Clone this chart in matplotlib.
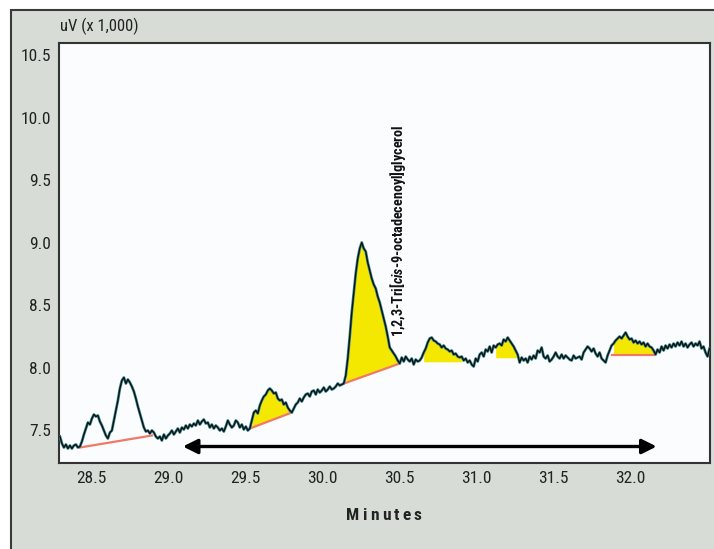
import numpy as np
import matplotlib.pyplot as plt
from matplotlib.patches import Rectangle
from matplotlib import font_manager

# detector trace, uV (x 1,000), evenly sampled between the two times below
T_START = 28.296
T_END = 32.517
signal = [
    7.452, 7.396, 7.364, 7.388, 7.356, 7.380, 7.356, 7.380, 7.388, 7.364, 7.372,
    7.412, 7.468, 7.516, 7.564, 7.548, 7.596, 7.628, 7.612, 7.620, 7.572,
    7.540, 7.500, 7.460, 7.436, 7.484, 7.500, 7.580, 7.660, 7.740, 7.836,
    7.900, 7.924, 7.876, 7.908, 7.884, 7.852, 7.812, 7.756, 7.692, 7.636,
    7.580, 7.524, 7.492, 7.500, 7.476, 7.500, 7.484, 7.452, 7.436, 7.452,
    7.420, 7.468, 7.436, 7.460, 7.476, 7.500, 7.468, 7.492, 7.516, 7.484,
    7.524, 7.508, 7.540, 7.516, 7.548, 7.532, 7.556, 7.540, 7.580, 7.548,
    7.572, 7.588, 7.556, 7.564, 7.524, 7.548, 7.516, 7.540, 7.524, 7.500,
    7.516, 7.492, 7.532, 7.580, 7.548, 7.524, 7.540, 7.580, 7.564, 7.524,
    7.548, 7.508, 7.532, 7.500, 7.516, 7.580, 7.644, 7.660, 7.636, 7.700,
    7.740, 7.772, 7.788, 7.820, 7.836, 7.820, 7.796, 7.804, 7.756, 7.740,
    7.748, 7.708, 7.724, 7.684, 7.660, 7.644, 7.676, 7.708, 7.724, 7.756,
    7.732, 7.764, 7.788, 7.796, 7.772, 7.812, 7.820, 7.788, 7.828, 7.804,
    7.820, 7.844, 7.812, 7.828, 7.852, 7.828, 7.836, 7.852, 7.876, 7.860,
    7.868, 7.876, 7.940, 8.076, 8.252, 8.444, 8.604, 8.756, 8.876, 8.956,
    9.004, 8.956, 8.932, 8.844, 8.780, 8.716, 8.668, 8.636, 8.572, 8.524,
    8.460, 8.396, 8.332, 8.252, 8.164, 8.140, 8.116, 8.092, 8.060, 8.036,
    8.084, 8.052, 8.092, 8.068, 8.052, 8.076, 8.028, 8.068, 8.052, 8.060,
    8.084, 8.124, 8.156, 8.204, 8.236, 8.244, 8.220, 8.212, 8.196, 8.188,
    8.164, 8.180, 8.156, 8.148, 8.132, 8.140, 8.108, 8.116, 8.092, 8.084,
    8.092, 8.060, 8.076, 8.044, 8.060, 8.028, 8.012, 8.076, 8.052, 8.108,
    8.124, 8.092, 8.148, 8.132, 8.172, 8.124, 8.180, 8.164, 8.188, 8.196,
    8.180, 8.228, 8.212, 8.244, 8.220, 8.196, 8.172, 8.140, 8.108, 8.044,
    8.084, 8.060, 8.076, 8.044, 8.092, 8.068, 8.100, 8.076, 8.140, 8.124,
    8.164, 8.092, 8.076, 8.100, 8.052, 8.068, 8.092, 8.124, 8.092, 8.076,
    8.108, 8.076, 8.100, 8.084, 8.068, 8.060, 8.100, 8.076, 8.084, 8.092,
    8.068, 8.124, 8.148, 8.172, 8.156, 8.132, 8.156, 8.116, 8.092, 8.124,
    8.076, 8.060, 8.044, 8.100, 8.140, 8.180, 8.196, 8.220, 8.236, 8.252,
    8.236, 8.260, 8.284, 8.252, 8.228, 8.236, 8.204, 8.220, 8.196, 8.212,
    8.188, 8.204, 8.172, 8.196, 8.172, 8.164, 8.140, 8.108, 8.148, 8.124,
    8.172, 8.140, 8.180, 8.156, 8.188, 8.164, 8.196, 8.172, 8.204, 8.180,
    8.212, 8.172, 8.196, 8.164, 8.188, 8.204, 8.172, 8.196, 8.180, 8.212,
    8.156, 8.172, 8.124, 8.092, 8.156,
]

# integrated peaks: start, end (min), baseline at start and end, filled, baseline drawn
peak_start = [28.426, 29.530, 30.141, 30.647, 31.115, 31.881]
peak_end = [28.894, 29.803, 30.504, 30.907, 31.271, 32.154]
base_start = [7.364, 7.516, 7.876, 8.050, 8.082, 8.104]
base_end = [7.460, 7.644, 8.036, 8.050, 8.082, 8.104]
peak_filled = [False, True, True, True, True, True]
base_drawn = [True, True, True, False, False, True]

# retention window arrow
window = (29.095, 32.173)
window_y = 7.372

peak_label_x = 30.491
peak_label_y = 8.25

x_ticks = [28.5, 29.0, 29.5, 30.0, 30.5, 31.0, 31.5, 32.0]
y_ticks = [7.5, 8.0, 8.5, 9.0, 9.5, 10.0, 10.5]

# pick a narrow face if one is around
fonts = font_manager.fontManager.ttflist
names = {f.name for f in fonts}
family, stretch = 'Roboto', 'normal'
for cand in ['Liberation Sans Narrow', 'Roboto Condensed', 'Open Sans Condensed']:
    if cand in names:
        family = cand
        break
else:
    if any(f.name == 'DejaVu Sans' and f.stretch == 'condensed' for f in fonts):
        family, stretch = 'DejaVu Sans', 'condensed'
plt.rcParams['font.family'] = [family, 'DejaVu Sans']
plt.rcParams['font.stretch'] = stretch
plt.rcParams['mathtext.fontset'] = 'custom'
plt.rcParams['mathtext.it'] = family + ':italic:bold'
plt.rcParams['mathtext.rm'] = family + ':bold'

W, H = 714, 549
fig = plt.figure(figsize=(W / 100, H / 100), dpi=100)
fig.patch.set_facecolor('white')

panel = Rectangle((11 / W, -0.05), 1.1, 1 - 10 / H + 0.05, transform=fig.transFigure,
                  facecolor='#d7dcd7', edgecolor='#3a3a3a', linewidth=1.5, zorder=-5)
fig.add_artist(panel)

ax = fig.add_axes([59 / W, 86 / H, 651 / W, 420 / H])
ax.set_zorder(2)
ax.set_facecolor('#fbfcfe')
for s in ax.spines.values():
    s.set_color('#333333')
    s.set_linewidth(1.5)

t = np.linspace(T_START, T_END, len(signal))
sig = np.array(signal)

for i in range(len(peak_start)):
    m = (t >= peak_start[i] - 1e-6) & (t <= peak_end[i] + 1e-6)
    base = np.interp(t[m], [peak_start[i], peak_end[i]], [base_start[i], base_end[i]])
    if peak_filled[i]:
        ax.fill_between(t[m], base, sig[m], where=sig[m] >= base, interpolate=True,
                        color='#f4e800', linewidth=0, zorder=2)
    if base_drawn[i]:
        ax.plot([peak_start[i], peak_end[i]], [base_start[i], base_end[i]],
                color='#f07a66', lw=1.6, zorder=3)

ax.plot(t, sig, color='#3a8a92', lw=2.0, zorder=4, solid_joinstyle='round')
ax.plot(t, sig, color='#111111', lw=1.0, zorder=5, solid_joinstyle='round')

ax.annotate('', xy=(window[1], window_y), xytext=(window[0], window_y),
            arrowprops=dict(arrowstyle='<|-|>', color='black', lw=2.4,
                            mutation_scale=22, shrinkA=0, shrinkB=0), zorder=6)

ax.text(peak_label_x, peak_label_y, r'1,2,3-Tri[$\mathit{cis}$-9-octadecenoyl]glycerol',
        rotation=90, ha='center', va='bottom', fontsize=10.2, fontweight='bold',
        color='#111111', zorder=7)

ax.set_xlim(28.29, 32.52)
ax.set_ylim(7.24, 10.6)
ax.set_xticks(x_ticks)
ax.set_yticks(y_ticks)
ax.set_xticklabels([f'{v:.1f}' for v in x_ticks])
ax.set_yticklabels([f'{v:.1f}' for v in y_ticks])
ax.tick_params(length=0, labelsize=12.5, colors='#222222', pad=6)

fig.text(60 / W, 1 - 26 / H, 'uV (x 1,000)', fontsize=12, color='#222222',
         ha='left', va='center')

# spaced-out axis title
fig.canvas.draw()
renderer = fig.canvas.get_renderer()
title = 'Minutes'
pieces = []
for ch in title:
    tx = fig.text(0, 0, ch, fontsize=12.5, fontweight='bold', color='#222222',
                  va='center', ha='left')
    pieces.append((tx, tx.get_window_extent(renderer).width))
track = 3.2
total = sum(w for _, w in pieces) + track * (len(pieces) - 1)
x0 = 384 - total / 2
for tx, w in pieces:
    tx.set_position((x0 / W, 1 - 515 / H))
    x0 += w + track

fig.savefig('out.png', dpi=100)
